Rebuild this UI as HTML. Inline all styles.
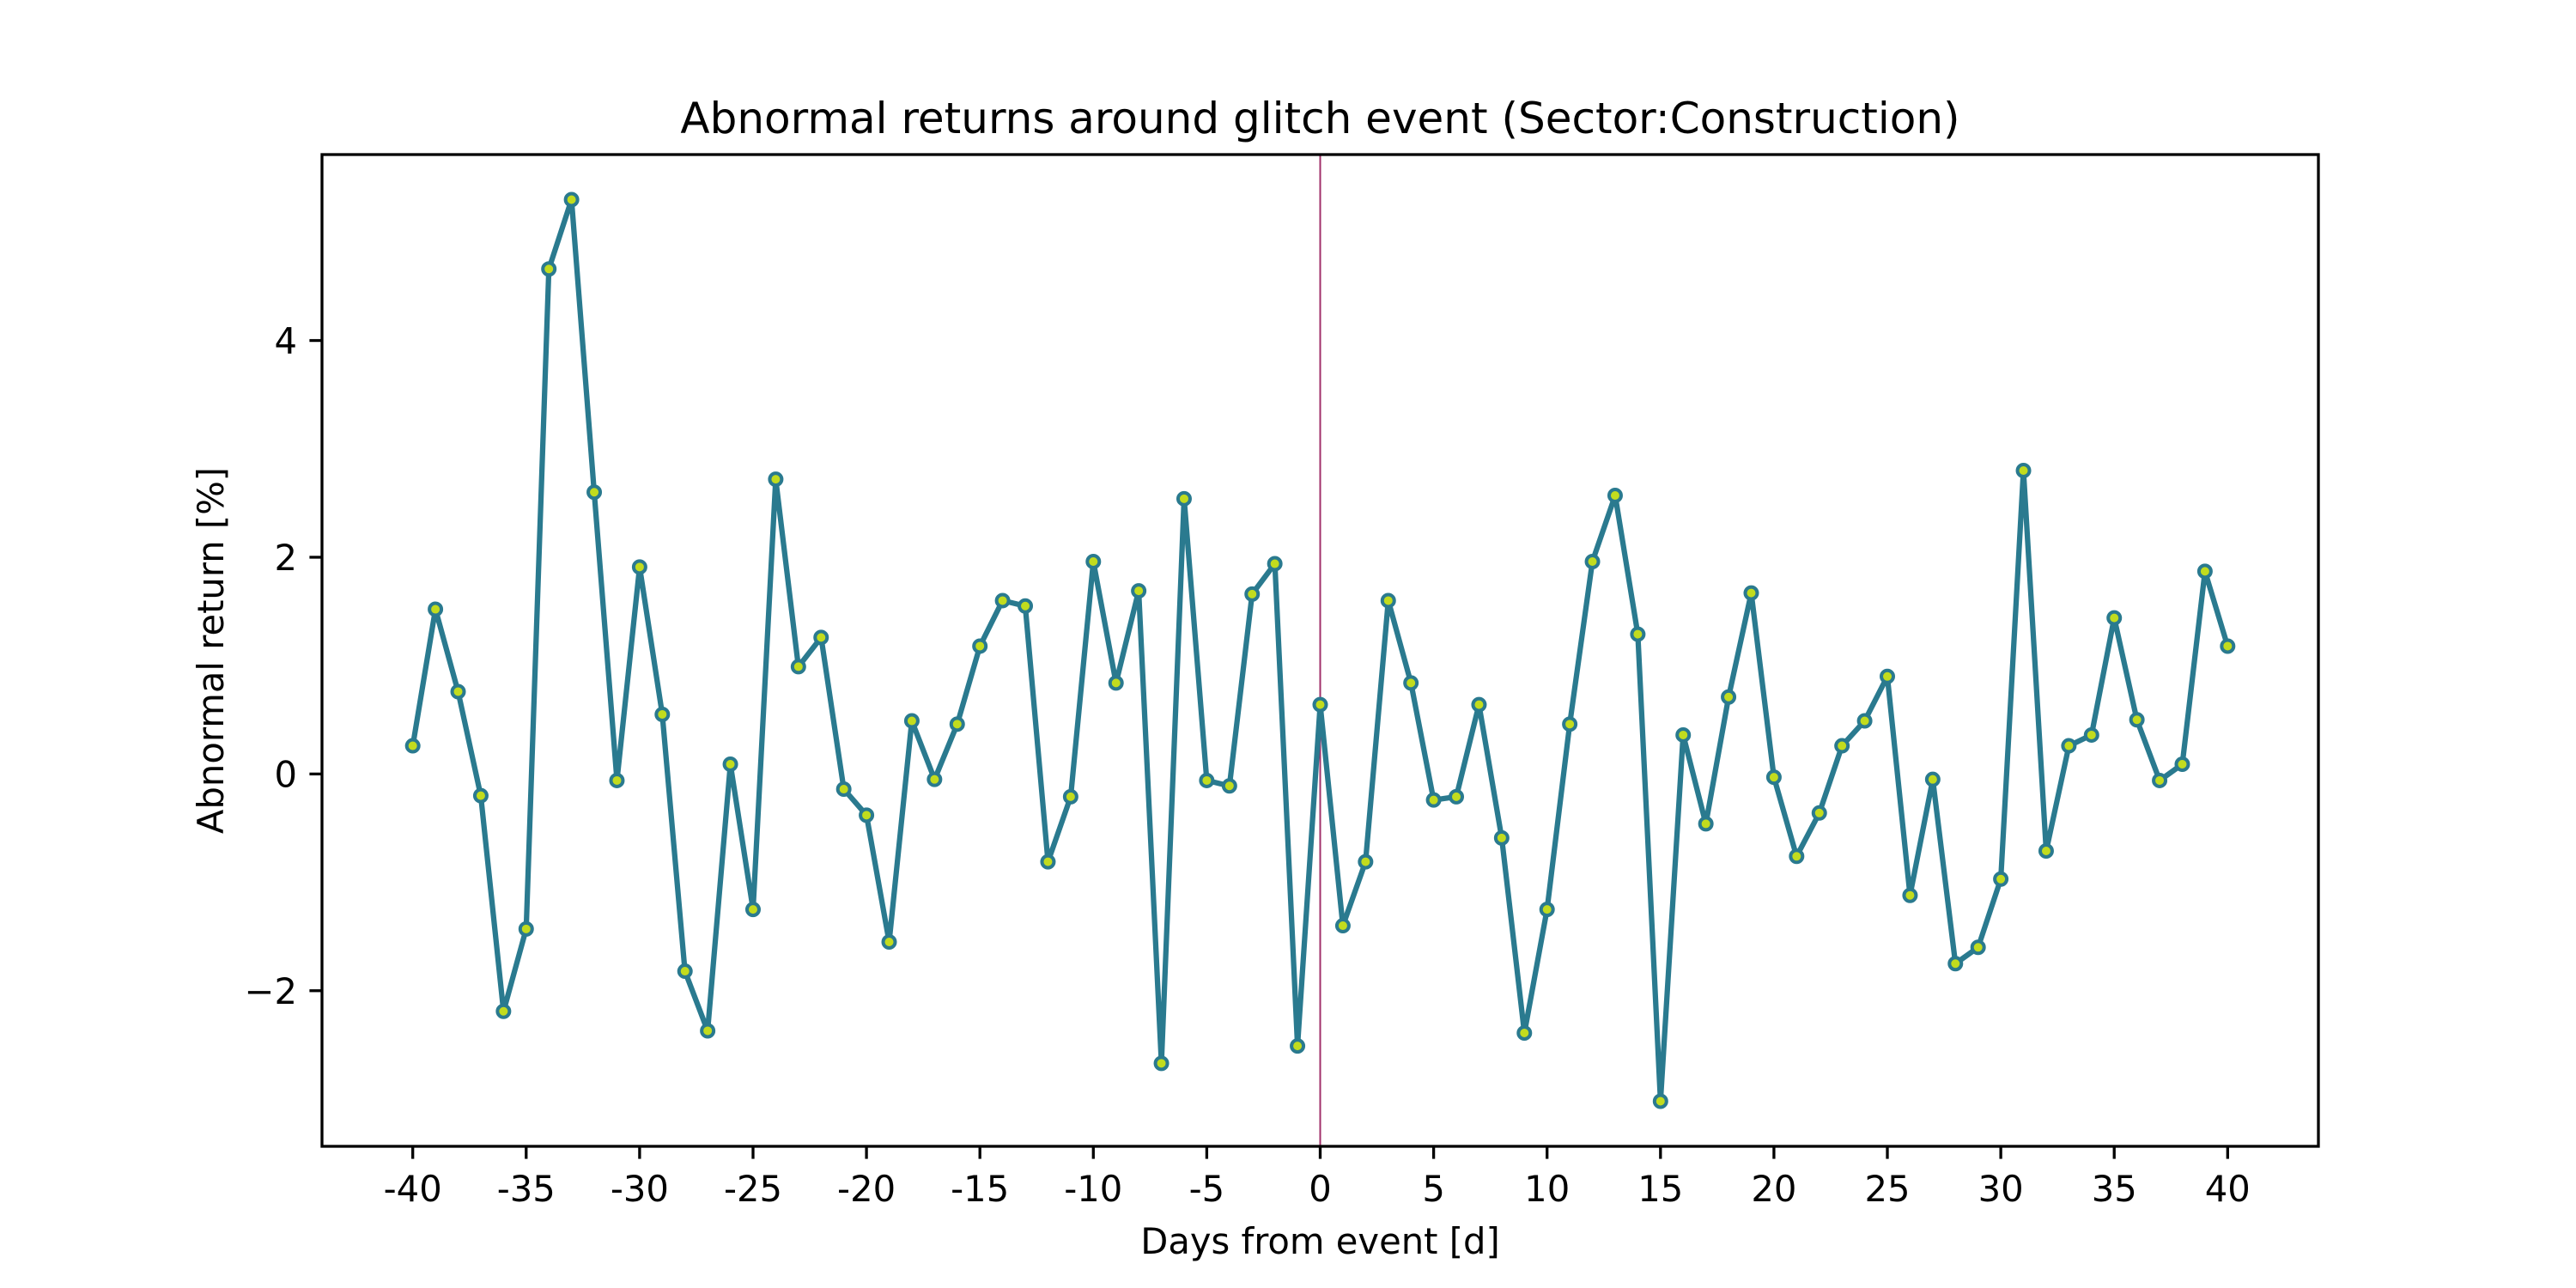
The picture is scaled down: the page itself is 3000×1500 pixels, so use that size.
<!DOCTYPE html>
<html><head><meta charset="utf-8"><style>
html,body{margin:0;padding:0;background:#fff;}
svg{display:block;font-family:"DejaVu Sans","Liberation Sans",sans-serif;}
</style></head><body>
<svg id="chart" width="3000" height="1500" viewBox="0 0 3000 1500" xmlns="http://www.w3.org/2000/svg">
<rect x="0" y="0" width="3000" height="1500" fill="#fff"/>
<g id="plot"></g>
</svg>
<script>
const days = [];
for (let d = -40; d <= 40; d++) days.push(d);
const returns = [0.26,1.52,0.76,-0.2,-2.19,-1.43,4.66,5.30,2.60,-0.06,1.91,0.55,-1.82,-2.37,0.09,-1.25,2.72,0.99,1.26,-0.14,-0.38,-1.55,0.49,-0.05,0.46,1.18,1.60,1.55,-0.81,-0.21,1.96,0.84,1.69,-2.67,2.54,-0.06,-0.11,1.66,1.94,-2.51,0.64,-1.40,-0.81,1.60,0.84,-0.24,-0.21,0.64,-0.59,-2.39,-1.25,0.46,1.96,2.57,1.29,-3.02,0.36,-0.46,0.71,1.67,-0.03,-0.76,-0.36,0.26,0.49,0.90,-1.12,-0.05,-1.75,-1.60,-0.97,2.80,-0.71,0.26,0.36,1.44,0.50,-0.06,0.09,1.87,1.18];
const xTicks = [-40,-35,-30,-25,-20,-15,-10,-5,0,5,10,15,20,25,30,35,40];
const xTickLabels = ["-40","-35","-30","-25","-20","-15","-10","-5","0","5","10","15","20","25","30","35","40"];
const yTicks = [-2,0,2,4];
const yTickLabels = ["\u22122","0","2","4"];
const eventDay = [0];

const L=375,R=2700,T=180,B=1335;
const xmin=-44,xmax=44;
const ymaxD=Math.max(...returns),yminD=Math.min(...returns),m=(ymaxD-yminD)*0.05;
const ymin=yminD-m,ymax=ymaxD+m;
const X=v=>L+(v-xmin)/(xmax-xmin)*(R-L);
const Y=v=>B-(v-ymin)/(ymax-ymin)*(B-T);
const NS="http://www.w3.org/2000/svg";
const g=document.getElementById('plot');
function mk(tag,attrs,parent){const e=document.createElementNS(NS,tag);for(const k in attrs)e.setAttribute(k,attrs[k]);(parent||g).appendChild(e);return e;}

eventDay.forEach(d=>{
  const e=mk('line',{x1:X(d),x2:X(d),y1:T,y2:B,stroke:'#a0306a','stroke-width':2});
  
  
});
let pts=days.map((d,i)=>X(d).toFixed(1)+','+Y(returns[i]).toFixed(1)).join(' ');
const line=mk('polyline',{points:pts,fill:'none',stroke:'#2a7a8f','stroke-width':6.25,'stroke-linejoin':'round'});


days.forEach((d,i)=>{
  const c=mk('circle',{cx:X(d),cy:Y(returns[i]),r:7,fill:'#c2dc1e',stroke:'#2a7a8f','stroke-width':4});
  
  
});
const frame=mk('rect',{x:L,y:T,width:R-L,height:B-T,fill:'none',stroke:'#000','stroke-width':3.3});


xTicks.forEach((v,i)=>{
  const t=mk('line',{x1:X(v),x2:X(v),y1:B,y2:B+14.6,stroke:'#000','stroke-width':3.3});
  
  
  const l=mk('text',{x:X(v),y:B+64,'font-size':41.7,'text-anchor':'middle',fill:'#000'});
  l.textContent=xTickLabels[i];
  
  
});
yTicks.forEach((v,i)=>{
  const t=mk('line',{x1:L-14.6,x2:L,y1:Y(v),y2:Y(v),stroke:'#000','stroke-width':3.3});
  
  
  const l=mk('text',{x:L-29,y:Y(v)+15,'font-size':41.7,'text-anchor':'end',fill:'#000'});
  l.textContent=yTickLabels[i];
  
  
});
const title=mk('text',{x:(L+R)/2,y:155,'font-size':50,'text-anchor':'middle',fill:'#000'});
title.textContent='Abnormal returns around glitch event (Sector:Construction)';


const xl=mk('text',{x:(L+R)/2,y:1460,'font-size':41.7,'text-anchor':'middle',fill:'#000'});
xl.textContent='Days from event [d]';


const yl=mk('text',{x:0,y:0,'font-size':41.7,'text-anchor':'middle',fill:'#000',transform:'translate(260,'+((T+B)/2)+') rotate(-90)'});
yl.textContent='Abnormal return [%]';


</script>
</body></html>
